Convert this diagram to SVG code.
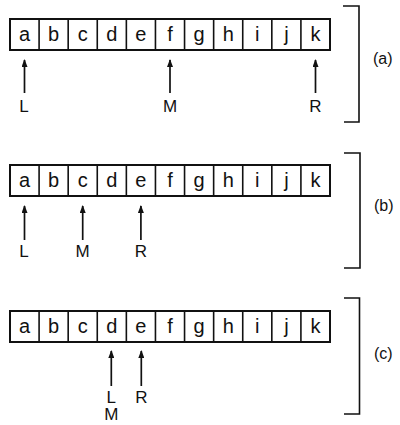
<svg xmlns="http://www.w3.org/2000/svg" width="400" height="425" viewBox="0 0 400 425">
<style>
.box{fill:#fff;stroke:#111;stroke-width:2}
.div{stroke:#111;stroke-width:1.6}
.cell{font-family:"Liberation Sans",Arial,sans-serif;font-size:20px;fill:#111;text-anchor:middle}
.lbl{font-family:"Liberation Sans",Arial,sans-serif;font-size:17px;fill:#111;text-anchor:middle}
.cap{font-family:"Liberation Sans",Arial,sans-serif;font-size:16px;fill:#111}
.arr{stroke:#111;stroke-width:1.7;fill:none;marker-end:url(#ah)}
.brk{stroke:#111;stroke-width:1.6;fill:none}
</style>
<defs>
<marker id="ah" markerWidth="8" markerHeight="6" refX="7" refY="3" orient="auto" markerUnits="userSpaceOnUse" viewBox="0 0 8 6">
<path d="M0,0 L8,3 L0,6 Z" fill="#111"/>
</marker>
</defs>
<rect width="400" height="425" fill="#fff"/>

<g id="array-a">
<rect class="box" x="10" y="19" width="320" height="31"/>
<path class="div" d="M39.09,19V50M68.18,19V50M97.27,19V50M126.36,19V50M155.45,19V50M184.55,19V50M213.64,19V50M242.73,19V50M271.82,19V50M300.91,19V50"/>
<text class="cell" y="41"><tspan x="24.5">a</tspan><tspan x="53.6">b</tspan><tspan x="82.7">c</tspan><tspan x="111.8">d</tspan><tspan x="140.9">e</tspan><tspan x="170">f</tspan><tspan x="199.1">g</tspan><tspan x="228.2">h</tspan><tspan x="257.3">i</tspan><tspan x="286.4">j</tspan><tspan x="315.5">k</tspan></text>
</g>
<g id="ptr-a-L"><text class="lbl" x="24" y="111.5">L</text></g>
<g id="ptr-a-M"><text class="lbl" x="170" y="111.5">M</text></g>
<g id="ptr-a-R"><text class="lbl" x="315.5" y="111.5">R</text></g>
<g id="bracket-a">
<path class="brk" d="M343,6H359V122H344"/>
<text class="cap" x="373" y="63.5">(a)</text>
</g>

<g id="array-b">
<rect class="box" x="10" y="165" width="320" height="31"/>
<path class="div" d="M39.09,165V196M68.18,165V196M97.27,165V196M126.36,165V196M155.45,165V196M184.55,165V196M213.64,165V196M242.73,165V196M271.82,165V196M300.91,165V196"/>
<text class="cell" y="187"><tspan x="24.5">a</tspan><tspan x="53.6">b</tspan><tspan x="82.7">c</tspan><tspan x="111.8">d</tspan><tspan x="140.9">e</tspan><tspan x="170">f</tspan><tspan x="199.1">g</tspan><tspan x="228.2">h</tspan><tspan x="257.3">i</tspan><tspan x="286.4">j</tspan><tspan x="315.5">k</tspan></text>
</g>
<g id="ptr-b-L"><text class="lbl" x="24" y="257">L</text></g>
<g id="ptr-b-M"><text class="lbl" x="82.7" y="257">M</text></g>
<g id="ptr-b-R"><text class="lbl" x="140.9" y="257">R</text></g>
<g id="bracket-b">
<path class="brk" d="M344,153H360V268H344"/>
<text class="cap" x="374" y="210.5">(b)</text>
</g>

<g id="array-c">
<rect class="box" x="10" y="311" width="320" height="31"/>
<path class="div" d="M39.09,311V342M68.18,311V342M97.27,311V342M126.36,311V342M155.45,311V342M184.55,311V342M213.64,311V342M242.73,311V342M271.82,311V342M300.91,311V342"/>
<text class="cell" y="333"><tspan x="24.5">a</tspan><tspan x="53.6">b</tspan><tspan x="82.7">c</tspan><tspan x="111.8">d</tspan><tspan x="140.9">e</tspan><tspan x="170">f</tspan><tspan x="199.1">g</tspan><tspan x="228.2">h</tspan><tspan x="257.3">i</tspan><tspan x="286.4">j</tspan><tspan x="315.5">k</tspan></text>
</g>
<g id="ptr-c-LM"><text class="lbl" x="111.3" y="402.5">L</text><text class="lbl" x="111.3" y="420">M</text></g>
<g id="ptr-c-R"><text class="lbl" x="141.3" y="402.5">R</text></g>
<g id="bracket-c">
<path class="brk" d="M344,298H359.5V414H344"/>
<text class="cap" x="374" y="358.5">(c)</text>
</g>

<g id="connectors">
<path class="arr" d="M24.5,93V60"/>
<path class="arr" d="M170,93V60"/>
<path class="arr" d="M315.5,93V60"/>
<path class="arr" d="M24.5,240V206"/>
<path class="arr" d="M82.7,240V206"/>
<path class="arr" d="M140.9,240V206"/>
<path class="arr" d="M111.3,386V351"/>
<path class="arr" d="M141.3,386V351"/>
</g>
</svg>
